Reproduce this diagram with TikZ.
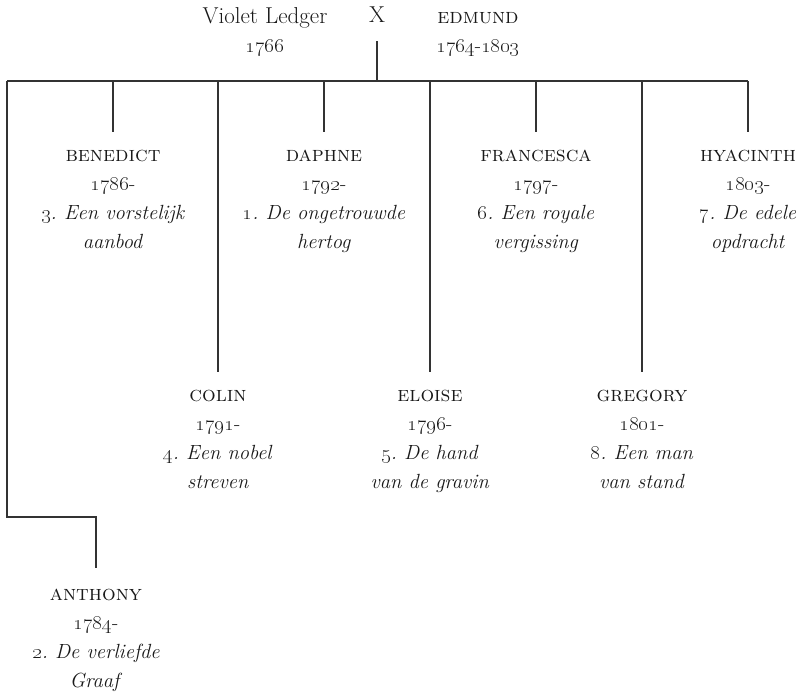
\documentclass[tikz,border=0pt]{standalone}
\begin{document}
\begin{tikzpicture}[x=1pt,y=-1pt,
  txt/.style={align=center,inner sep=0pt,anchor=base,text=black!90,
    font=\fontsize{20.5}{28.8}\selectfont\frenchspacing},
  conn/.style={draw=black!80,line width=1.2pt}]
\useasboundingbox (0,0) rectangle (805,696);
\newcommand{\os}[1]{\oldstylenums{#1}}
\newcommand{\nm}[1]{{\fontsize{21.5}{28.8}\selectfont\textsc{#1}}}
\newcommand{\bigtxt}[1]{{\fontsize{23}{28.8}\selectfont #1}}
% parents (anchor = baseline of last line)
\node[txt] (violet) at (265,52) {\bigtxt{Violet Ledger}\\\os{1766}};
\node[txt] (x) at (377,22) {\bigtxt{X}};
\node[txt] (edmund) at (478,52) {\nm{edmund}\\\os{1764}-\os{1803}};
% children
\node[txt] (benedict) at (113,248) {\nm{benedict}\\\os{1786}-\\\textit{\os{3}. Een vorstelijk}\\\textit{aanbod}};
\node[txt] (daphne) at (324,248) {\nm{daphne}\\\os{1792}-\\\textit{\os{1}. De ongetrouwde}\\\textit{hertog}};
\node[txt] (francesca) at (536,248) {\nm{francesca}\\\os{1797}-\\\textit{\os{6}. Een royale}\\\textit{vergissing}};
\node[txt] (hyacinth) at (748,248) {\nm{hyacinth}\\\os{1803}-\\\textit{\os{7}. De edele}\\\textit{opdracht}};
\node[txt] (colin) at (218,488) {\nm{colin}\\\os{1791}-\\\textit{\os{4}. Een nobel}\\\textit{streven}};
\node[txt] (eloise) at (430,488) {\nm{eloise}\\\os{1796}-\\\textit{\os{5}. De hand}\\\textit{van de gravin}};
\node[txt] (gregory) at (642,488) {\nm{gregory}\\\os{1801}-\\\textit{\os{8}. Een man}\\\textit{van stand}};
\node[txt] (anthony) at (96,687) {\nm{anthony}\\\os{1784}-\\\textit{\os{2}. De verliefde}\\\textit{Graaf}};
% connector points
\coordinate (top) at (377,41);
\coordinate (bar) at (377,81);
\coordinate (barL) at (7,81);
\coordinate (barR) at (748,81);
\coordinate (elbow) at (96,517);
\coordinate (anthonyT) at (96,568);
\coordinate (benedictT) at (113,132);
\coordinate (daphneT) at (324,132);
\coordinate (francescaT) at (536,132);
\coordinate (hyacinthT) at (748,132);
\coordinate (colinT) at (218,372);
\coordinate (eloiseT) at (430,372);
\coordinate (gregoryT) at (642,372);
% connectors
\draw[conn] (top) -- (bar);
\draw[conn] (barL) -- (barR);
\draw[conn] (barL) |- (elbow) -- (anthonyT);
\foreach \c in {benedict,daphne,francesca,hyacinth,colin,eloise,gregory}{
  \draw[conn] (\c T |- barL) -- (\c T);
}
\end{tikzpicture}
\end{document}
